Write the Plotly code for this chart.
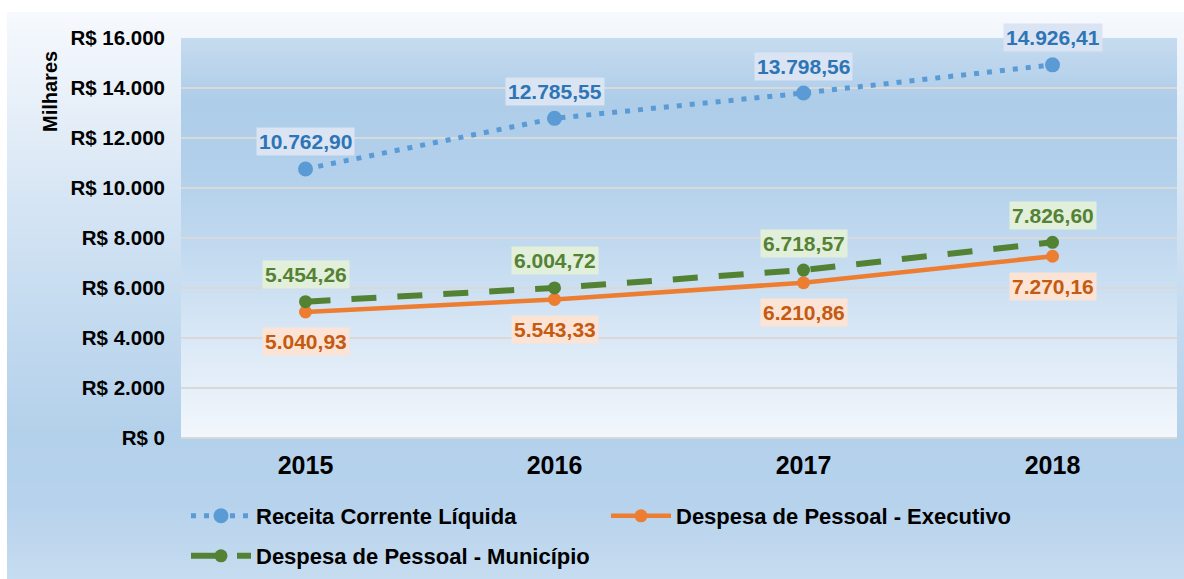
import base64, struct, zlib
import plotly.graph_objects as go

years = ["2015", "2016", "2017", "2018"]
rcl = [10762.90, 12785.55, 13798.56, 14926.41]
executivo = [5040.93, 5543.33, 6210.86, 7270.16]
municipio = [5454.26, 6004.72, 6718.57, 7826.60]
y_ticks = [0, 2000, 4000, 6000, 8000, 10000, 12000, 14000, 16000]
y_ticktext = ["R$ 0", "R$ 2.000", "R$ 4.000", "R$ 6.000", "R$ 8.000",
              "R$ 10.000", "R$ 12.000", "R$ 14.000", "R$ 16.000"]

names = ["Receita Corrente Líquida", "Despesa de Pessoal - Executivo",
         "Despesa de Pessoal - Município"]


def br(v):
    s = f"{v:,.2f}"
    return s.replace(",", "X").replace(".", ",").replace("X", ".")


def gradient_png(stops, n):
    rows = b""
    for i in range(n):
        t = i / (n - 1)
        for j in range(len(stops) - 1):
            t0, c0 = stops[j]
            t1, c1 = stops[j + 1]
            if t0 <= t <= t1:
                f = (t - t0) / (t1 - t0) if t1 > t0 else 0
                c = [round(c0[k] + (c1[k] - c0[k]) * f) for k in range(3)]
                break
        rows += b"\x00" + bytes(c) * 2

    def chunk(tag, data):
        return struct.pack(">I", len(data)) + tag + data + struct.pack(">I", zlib.crc32(tag + data) & 0xffffffff)

    png = b"\x89PNG\r\n\x1a\n"
    png += chunk(b"IHDR", struct.pack(">IIBBBBB", 2, n, 8, 2, 0, 0, 0))
    png += chunk(b"IDAT", zlib.compress(rows, 9))
    png += chunk(b"IEND", b"")
    return "data:image/png;base64," + base64.b64encode(png).decode()


W, H = 1184, 579
L, R, T, B = 181, 7, 38, 141
pw, ph = W - L - R, H - T - B


def px_to_paper_x(px):
    return (px - L) / pw


def py_to_paper_y(py):
    return (H - B - py) / ph


outer_top, outer_bot = 12, 579
outer_stops_px = [(12, (246, 249, 253)), (100, (232, 240, 249)), (200, (214, 229, 244)),
                  (300, (198, 220, 240)), (430, (180, 209, 235)), (500, (182, 210, 236)),
                  (579, (198, 220, 240))]
outer_stops = [((p - outer_top) / (outer_bot - outer_top), c) for p, c in outer_stops_px]
plot_stops_px = [(38, (198, 219, 239)), (100, (174, 205, 233)), (170, (178, 208, 235)),
                 (260, (196, 219, 240)), (340, (218, 232, 246)), (438, (242, 247, 252))]
plot_stops = [((p - 38) / (438 - 38), c) for p, c in plot_stops_px]

fig = go.Figure()

fig.add_trace(go.Scatter(
    x=years, y=rcl, name=names[0], mode="lines+markers",
    line=dict(color="#5b9bd5", width=5, dash="5px,8px"),
    marker=dict(color="#5b9bd5", size=15), legend="legend"))
fig.add_trace(go.Scatter(
    x=years, y=executivo, name=names[1], mode="lines+markers",
    line=dict(color="#ed7d31", width=4.5),
    marker=dict(color="#ed7d31", size=13), legend="legend"))
fig.add_trace(go.Scatter(
    x=years, y=municipio, name=names[2], mode="lines+markers",
    line=dict(color="#548235", width=6, dash="25px,21px"),
    marker=dict(color="#548235", size=13), legend="legend2"))

annotations = []
label_font = "Liberation Sans"
for ys, col, bg, shift in [
    (rcl, "#2e75b6", "#dae4f2", 27),
    (municipio, "#548235", "#e2efda", 27),
    (executivo, "#c55a11", "#fbe4d5", -30),
]:
    for i, yv in enumerate(ys):
        annotations.append(dict(
            x=i, y=yv, xref="x", yref="y", text="<b>%s</b>" % br(yv),
            showarrow=False, yshift=shift, bgcolor=bg, borderpad=2,
            xanchor="center", yanchor="middle",
            font=dict(family=label_font, size=21, color=col)))

annotations.append(dict(
    x=px_to_paper_x(50), y=py_to_paper_y(92), xref="paper", yref="paper",
    text="<b>Milhares</b>", textangle=-90, showarrow=False,
    xanchor="center", yanchor="middle",
    font=dict(family=label_font, size=20, color="#000000")))

fig.update_layout(
    width=W, height=H,
    margin=dict(l=L, r=R, t=T, b=B, pad=0, autoexpand=False),
    paper_bgcolor="#ffffff",
    plot_bgcolor="rgba(0,0,0,0)",
    font=dict(family=label_font, color="#000000"),
    annotations=annotations,
    images=[
        dict(source=gradient_png(outer_stops, outer_bot - outer_top), xref="paper", yref="paper",
             x=px_to_paper_x(7), y=py_to_paper_y(outer_top), sizex=(1184 - 7) / pw,
             sizey=(outer_bot - outer_top) / ph, sizing="stretch", xanchor="left",
             yanchor="top", layer="below"),
        dict(source=gradient_png(plot_stops, 400), xref="paper", yref="paper",
             x=0, y=1, sizex=1, sizey=1, sizing="stretch", xanchor="left",
             yanchor="top", layer="below"),
    ],
    xaxis=dict(
        type="category", range=[-0.5, 3.5], showgrid=False, zeroline=False,
        showline=False, ticks="", ticklabelstandoff=10,
        tickfont=dict(family=label_font, size=25, color="#000000"),
        tickprefix="<b>", ticksuffix="</b>"),
    yaxis=dict(
        range=[0, 16000], tickvals=y_ticks,
        ticktext=["<b>%s</b>" % t for t in y_ticktext],
        showgrid=True, gridcolor="#d9d9d9", gridwidth=2,
        zeroline=True, zerolinecolor="#d9d9d9", zerolinewidth=2,
        showline=False, ticks="", ticklabelstandoff=15,
        tickfont=dict(family=label_font, size=20.5, color="#000000")),
    legend=dict(
        orientation="h", x=px_to_paper_x(186), y=py_to_paper_y(495),
        xanchor="left", yanchor="top", bgcolor="rgba(0,0,0,0)",
        entrywidth=345, entrywidthmode="pixels", itemwidth=60,
        font=dict(family=label_font, size=22, color="#000000"),
        traceorder="normal"),
    legend2=dict(
        orientation="h", x=px_to_paper_x(186), y=py_to_paper_y(535),
        xanchor="left", yanchor="top", bgcolor="rgba(0,0,0,0)",
        itemwidth=60,
        font=dict(family=label_font, size=22, color="#000000")),
)

for tr in fig.data:
    tr.name = "<b>%s</b>" % tr.name

fig.write_html("out.html", config={"displayModeBar": False},
               post_script="document.body.style.margin='0';")
